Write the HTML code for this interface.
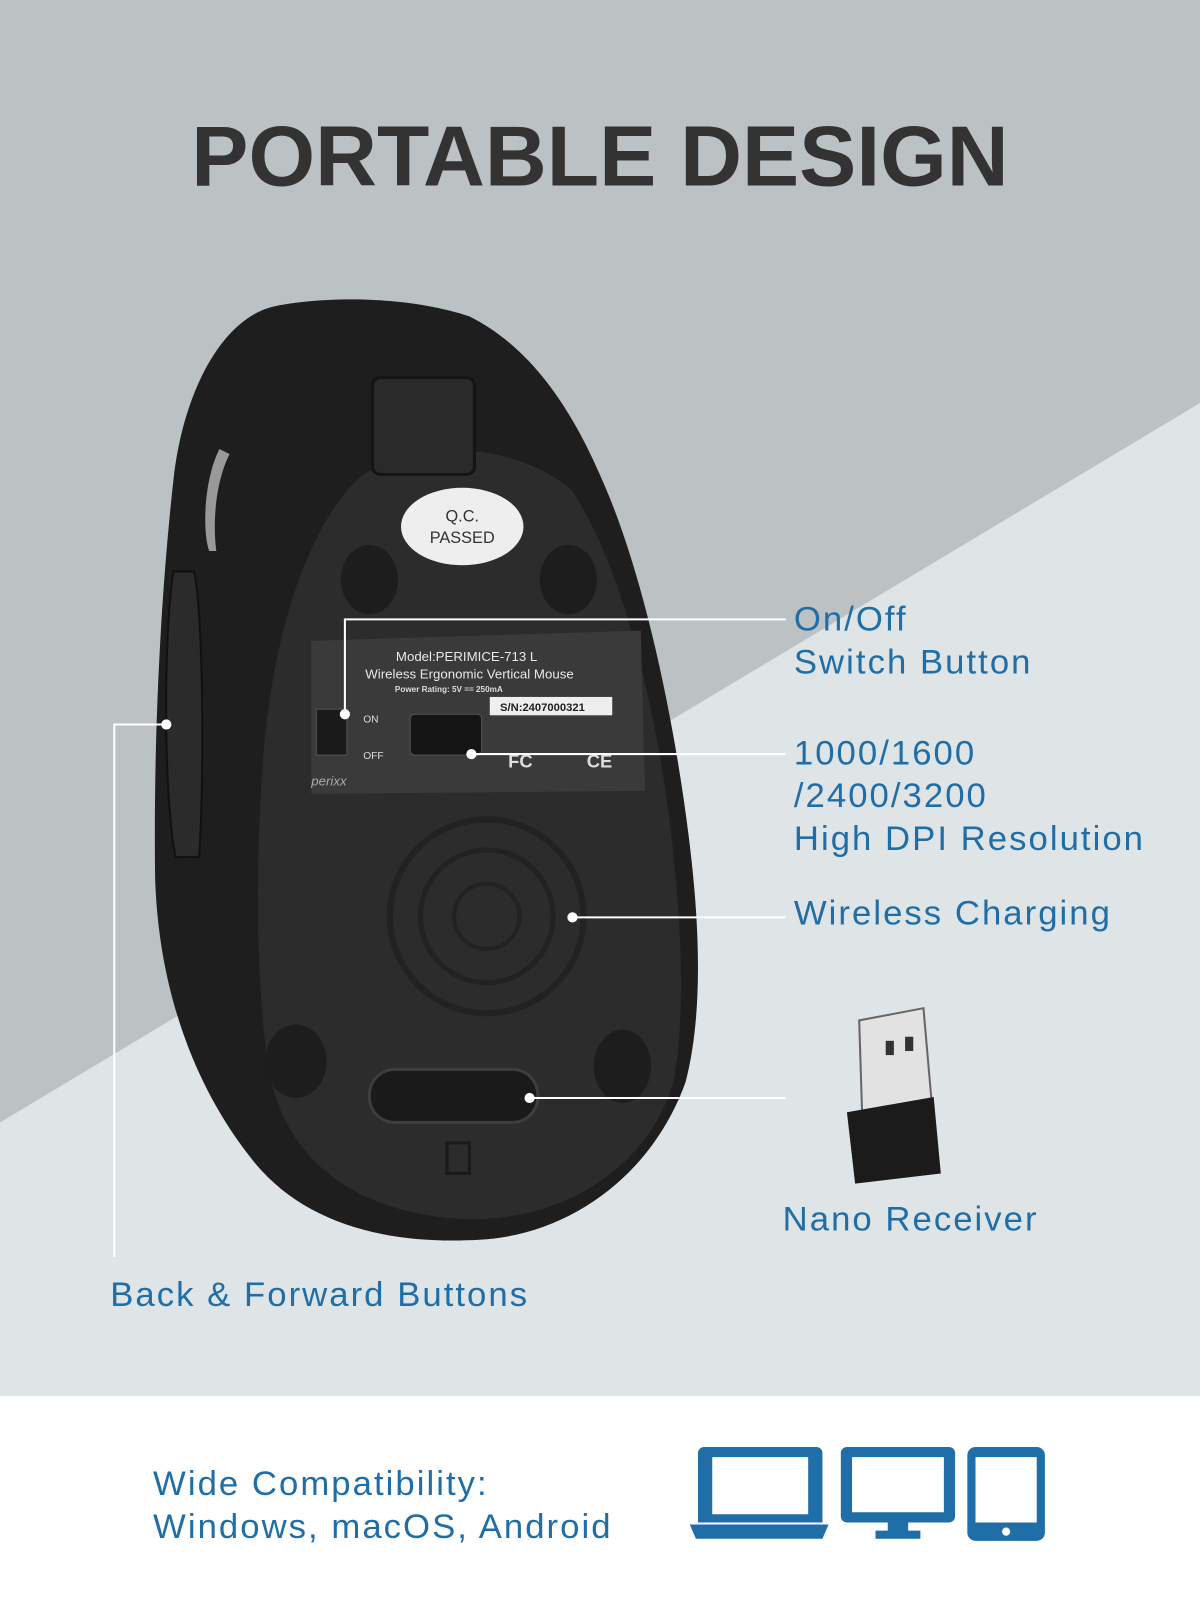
<!DOCTYPE html>
<html><head><meta charset="utf-8"><style>
html,body{margin:0;padding:0;width:1200px;height:1600px;overflow:hidden;background:#fff}
svg{display:block}
text{font-family:"Liberation Sans",sans-serif}
</style></head><body>
<svg width="1200" height="1600" viewBox="0 0 1176 1568" xmlns="http://www.w3.org/2000/svg">
<rect x="0" y="0" width="1176" height="1370" fill="#bcc1c3"/>
<polygon points="0,1100 1176,395 1176,1370 0,1370" fill="#dfe4e7"/>
<rect x="0" y="1368" width="1176" height="200" fill="#ffffff"/>
<text x="588" y="182" text-anchor="middle" font-size="84" font-weight="bold" fill="#333333">PORTABLE DESIGN</text>

<!-- mouse body -->
<path d="M270,300 C220,310 180,380 170,470 C160,560 150,700 152,860 C155,960 185,1060 250,1140 C300,1200 380,1220 470,1215 C560,1210 640,1150 672,1060 C690,990 685,900 675,820 C660,700 630,560 590,470 C560,400 520,340 460,310 C400,290 320,290 270,300 Z" fill="#1e1e1e"/>
<path d="M170,560 L190,560 C200,600 200,780 195,840 L172,840 C160,780 160,620 170,560 Z" fill="#2b2b2b" stroke="#111" stroke-width="2"/>
<path d="M215,440 C200,470 198,520 205,540 L212,540 C208,510 212,470 225,445 Z" fill="#999"/>
<!-- bottom plate -->
<path d="M350,470 C300,520 270,620 260,720 C250,820 250,950 262,1040 C275,1130 340,1190 460,1195 C570,1195 640,1130 660,1060 C675,980 665,860 650,760 C630,640 600,540 560,480 C500,430 400,430 350,470 Z" fill="#2c2c2c"/>
<rect x="365" y="370" width="100" height="95" rx="8" fill="#2a2a2a" stroke="#151515" stroke-width="3"/>
<ellipse cx="362" cy="568" rx="28" ry="34" fill="#1d1d1d"/>
<ellipse cx="557" cy="568" rx="28" ry="34" fill="#1d1d1d"/>
<ellipse cx="290" cy="1040" rx="30" ry="36" fill="#1d1d1d"/>
<ellipse cx="610" cy="1045" rx="28" ry="36" fill="#1d1d1d"/>
<ellipse cx="453" cy="516" rx="60" ry="38" fill="#eeeeee"/>
<text x="453" y="511" text-anchor="middle" font-size="16" fill="#333">Q.C.</text>
<text x="453" y="532" text-anchor="middle" font-size="16" fill="#333">PASSED</text>
<path d="M305,628 L628,618 L632,775 L305,778 Z" fill="#3a3a3a"/>
<text x="388" y="648" font-size="13" fill="#e8e8e8">Model:PERIMICE-713 L</text>
<text x="358" y="665" font-size="13" fill="#e8e8e8">Wireless Ergonomic Vertical Mouse</text>
<text x="387" y="678" font-size="8" font-weight="bold" fill="#ddd">Power Rating: 5V == 250mA</text>
<rect x="480" y="683" width="120" height="18" fill="#eeeeee"/>
<text x="490" y="697" font-size="11" font-weight="bold" fill="#222">S/N:2407000321</text>
<rect x="310" y="695" width="30" height="45" fill="#1a1a1a" stroke="#555"/>
<text x="356" y="708" font-size="10" fill="#ddd">ON</text>
<text x="356" y="744" font-size="10" fill="#ddd">OFF</text>
<rect x="402" y="700" width="70" height="40" rx="4" fill="#151515" stroke="#555"/>
<text x="498" y="752" font-size="18" font-weight="bold" fill="#ddd">FC</text>
<text x="575" y="752" font-size="18" font-weight="bold" fill="#ddd">CE</text>
<text x="305" y="770" font-size="13" font-style="italic" fill="#aaa">perixx</text>
<circle cx="477" cy="898" r="95" fill="none" stroke="#222" stroke-width="6"/>
<circle cx="477" cy="898" r="65" fill="none" stroke="#222" stroke-width="5"/>
<circle cx="477" cy="898" r="32" fill="none" stroke="#222" stroke-width="4"/>
<rect x="362" y="1048" width="165" height="52" rx="25" fill="#1a1a1a" stroke="#3d3d3d" stroke-width="3"/>
<rect x="438" y="1120" width="22" height="30" fill="none" stroke="#1a1a1a" stroke-width="3"/>

<g stroke="#ffffff" stroke-width="2" fill="none">
<polyline points="338,700 338,607 770,607"/>
<line x1="462" y1="739" x2="770" y2="739"/>
<line x1="561" y1="899" x2="770" y2="899"/>
<line x1="519" y1="1076" x2="770" y2="1076"/>
<polyline points="163,710 112,710 112,1232"/>
</g>
<g fill="#ffffff"><circle cx="338" cy="700" r="5"/><circle cx="462" cy="739" r="5"/><circle cx="561" cy="899" r="5"/><circle cx="519" cy="1076" r="5"/><circle cx="163" cy="710" r="5"/></g>

<g fill="#1f6ea8" font-size="34" letter-spacing="2">
<text x="778" y="618">On/Off</text>
<text x="778" y="660">Switch Button</text>
<text x="778" y="749">1000/1600</text>
<text x="778" y="791">/2400/3200</text>
<text x="778" y="833">High DPI Resolution</text>
<text x="778" y="906">Wireless Charging</text>
<text x="767" y="1206">Nano Receiver</text>
<text x="108" y="1280">Back &amp; Forward Buttons</text>
<text x="150" y="1465">Wide Compatibility:</text>
<text x="150" y="1507">Windows, macOS, Android</text>
</g>

<path d="M842,1000 L905,988 L913,1080 L845,1095 Z" fill="#e2e2e2" stroke="#666" stroke-width="2"/>
<rect x="868" y="1020" width="8" height="14" fill="#333"/>
<rect x="887" y="1016" width="8" height="14" fill="#333"/>
<path d="M830,1090 L915,1075 L922,1150 L838,1160 Z" fill="#1b1b1b"/>

<g fill="#1f6ea8">
<path d="M690,1418 h110 a6,6 0 0 1 6,6 v68 h-122 v-68 a6,6 0 0 1 6,-6z M698,1428 v56 h94 v-56z" fill-rule="evenodd"/>
<path d="M676,1494 h136 l-6,14 h-124z"/>
<path d="M830,1418 h100 a6,6 0 0 1 6,6 v62 a6,6 0 0 1 -6,6 h-100 a6,6 0 0 1 -6,-6 v-62 a6,6 0 0 1 6,-6z M835,1428 v54 h90 v-54z" fill-rule="evenodd"/>
<rect x="870" y="1492" width="20" height="10"/><rect x="858" y="1500" width="44" height="8"/>
<path d="M956,1418 h60 a8,8 0 0 1 8,8 v76 a8,8 0 0 1 -8,8 h-60 a8,8 0 0 1 -8,-8 v-76 a8,8 0 0 1 8,-8z M956,1428 v64 h60 v-64z" fill-rule="evenodd"/>
</g>
<circle cx="986" cy="1501" r="4" fill="#ffffff"/>
</svg>
</body></html>
